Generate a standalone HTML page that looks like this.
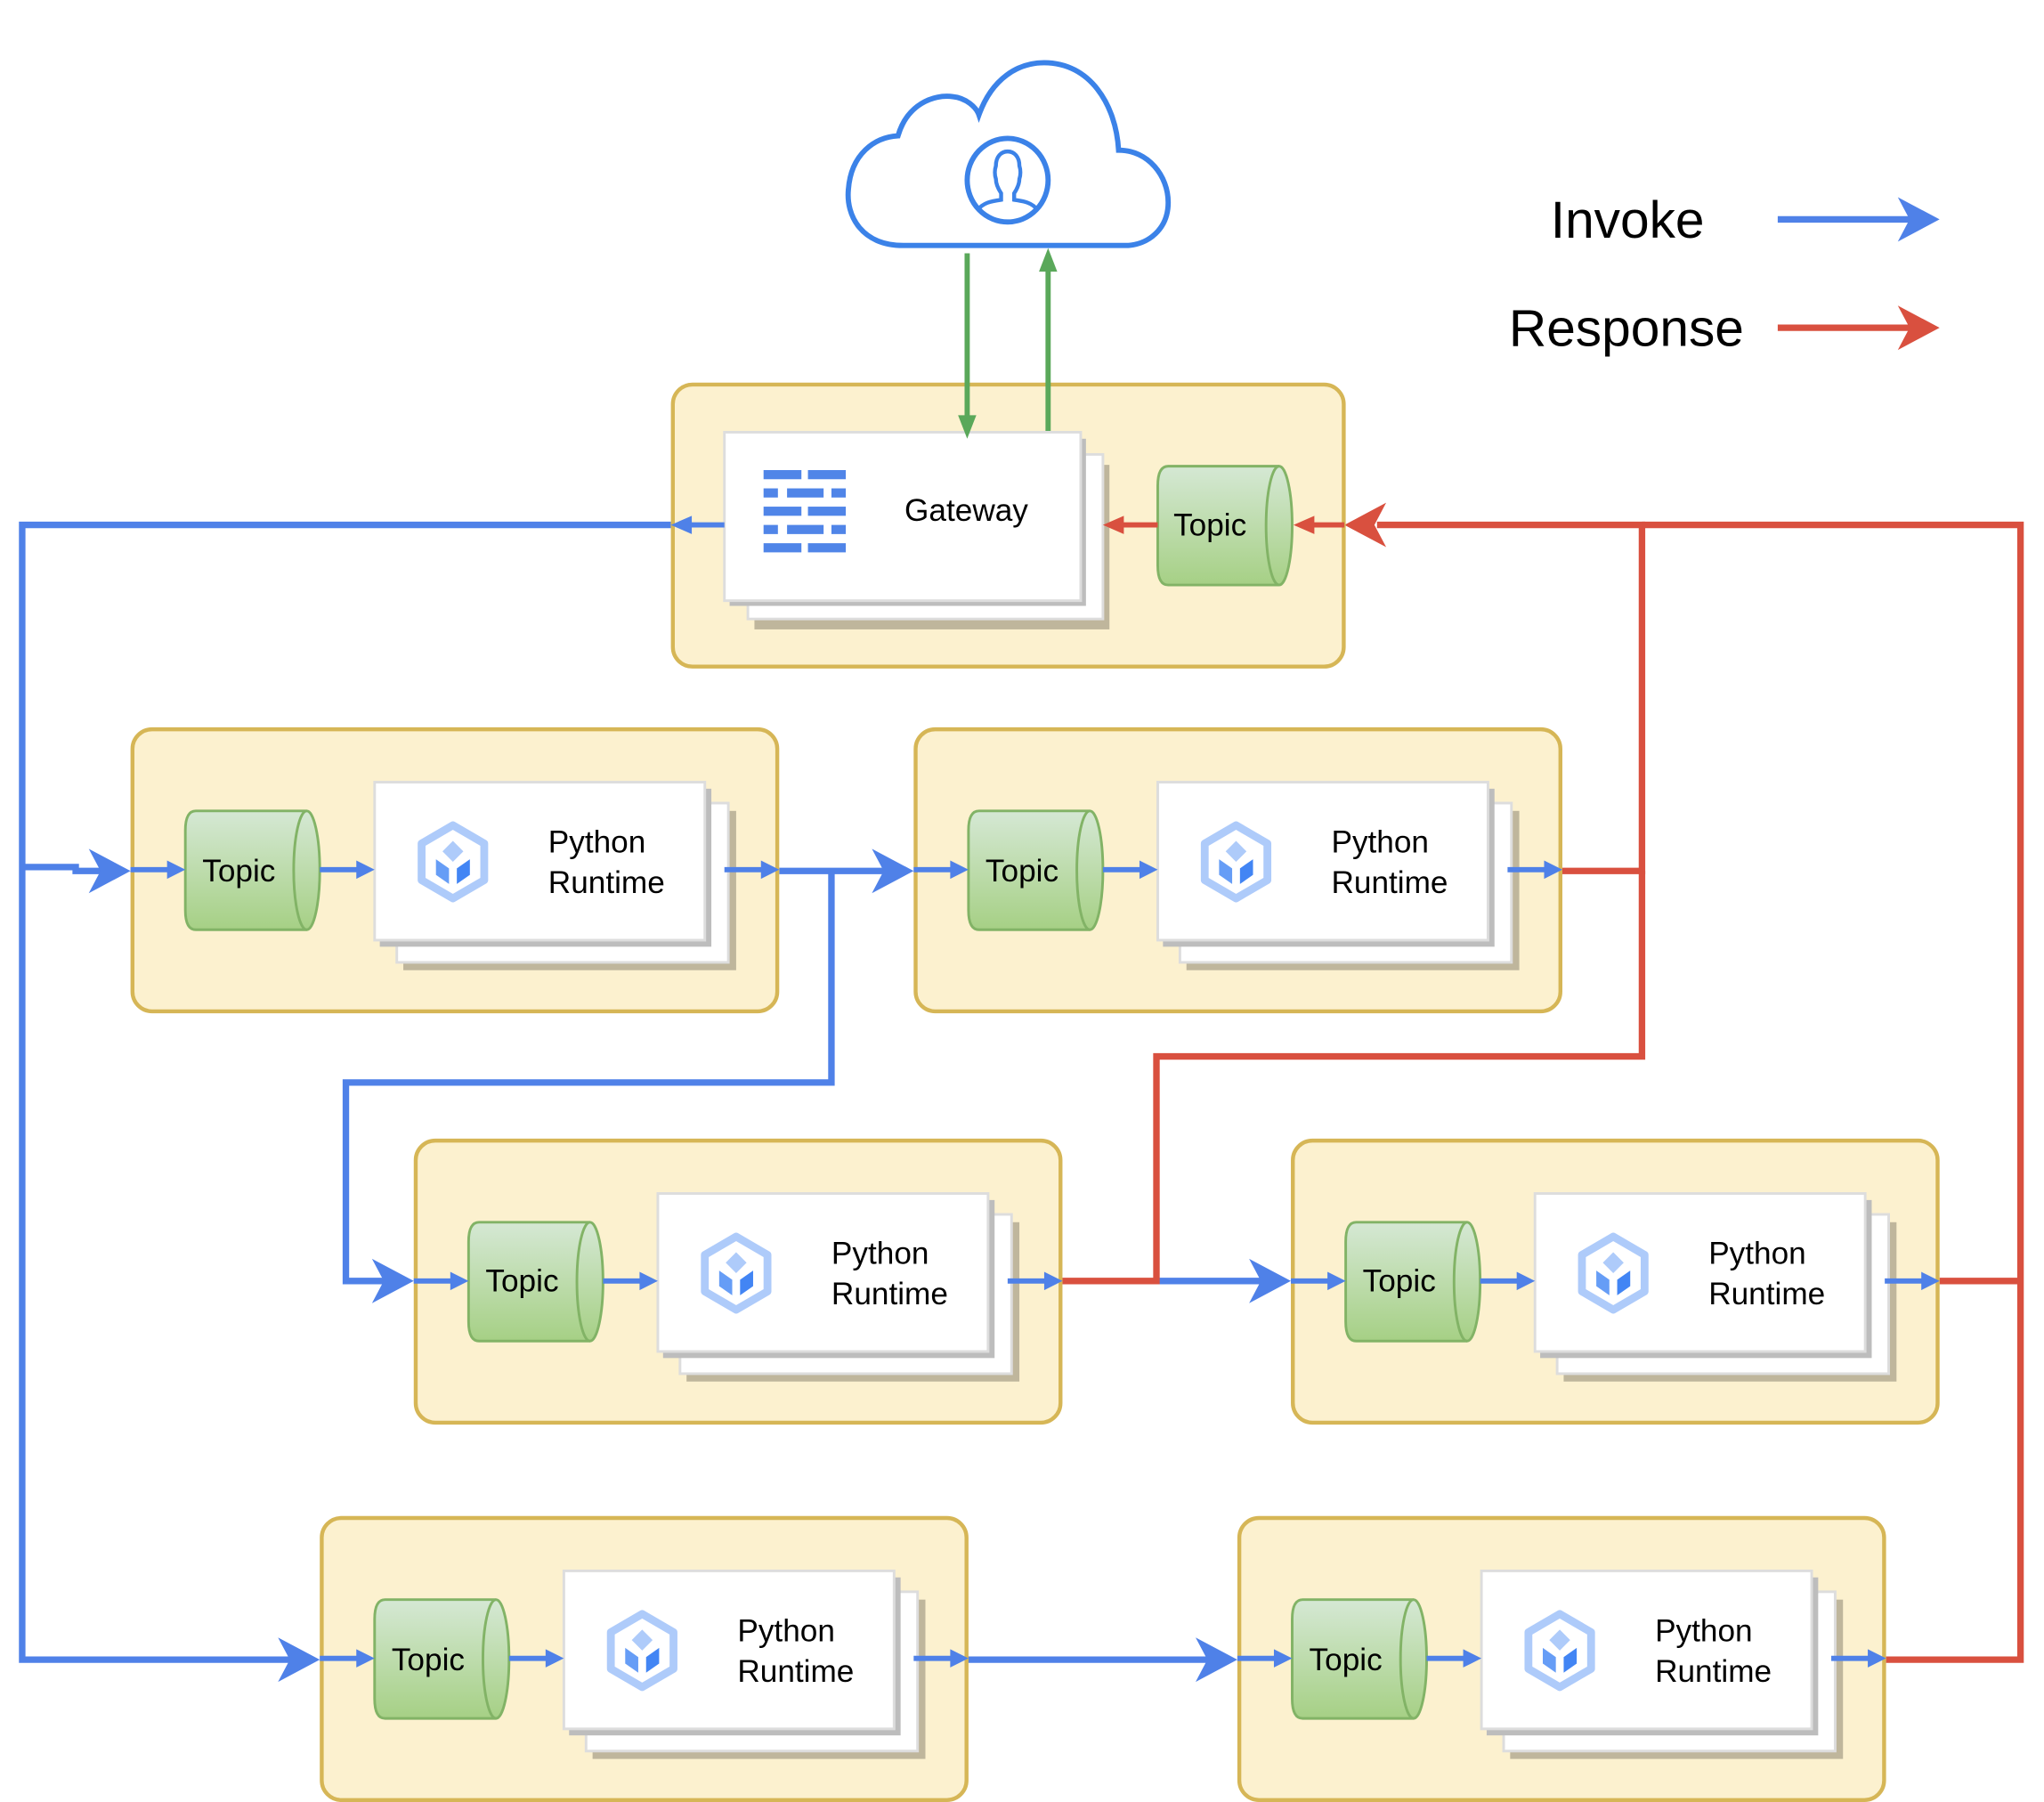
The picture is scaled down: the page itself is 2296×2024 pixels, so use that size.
<!DOCTYPE html>
<html><head><meta charset="utf-8"><style>
html,body{margin:0;padding:0;background:#fff;}
svg{display:block;}
text{font-family:"Liberation Sans",Arial,sans-serif;fill:#000;}
</style></head><body>
<svg width="2296" height="2024" viewBox="0 0 1566 1380" preserveAspectRatio="none" xmlns="http://www.w3.org/2000/svg">
<defs>
<linearGradient id="gr" x1="0" y1="0" x2="0" y2="1"><stop offset="0" stop-color="#d5e8d4"/><stop offset="1" stop-color="#a6d085"/></linearGradient>
<g id="hex">
<polygon points="0,-28 24,-14 24,14 0,28 -24,14 -24,-14" fill="none" stroke="#aecbfa" stroke-width="6" stroke-linejoin="round"/>
<polygon points="0,-16 8,-8 0,0 -8,-8" fill="#aecbfa"/>
<polygon points="-13,-2 -3,5 -3,17 -13,10" fill="#669df6"/>
<polygon points="13,-2 3,5 3,17 13,10" fill="#4285f4"/>
</g>
<g id="cyl">
<path d="M50,64 L135,64 A10,45.5 0 0 1 135,155 L50,155 Q42,155 42,140 L42,79 Q42,64 50,64 Z" fill="url(#gr)" stroke="#82b366" stroke-width="2"/>
<path d="M135,64 A10,45.5 0 0 0 135,155" fill="none" stroke="#82b366" stroke-width="2"/>
</g>
<g id="mod">
<rect x="1.5" y="1.5" width="494" height="216" rx="15" fill="#fcf1cf" stroke="#d6b656" stroke-width="3"/>
<use href="#cyl"/>
<rect x="209" y="64" width="255" height="122" fill="#bfb69c"/>
<rect x="204" y="58" width="254" height="122" fill="#fff" stroke="#ddd" stroke-width="2"/>
<rect x="191" y="47" width="254" height="121" fill="#bdbdbd"/>
<rect x="187" y="42" width="253" height="121" fill="#fff" stroke="#ddd" stroke-width="2"/>
<use href="#hex" x="247" y="103"/>
<g stroke="#4f81e8" stroke-width="4" fill="#4f81e8">
<line x1="0" y1="109" x2="30" y2="109"/><polygon points="42,109 28,102 28,116" stroke="none"/>
<line x1="145" y1="109" x2="175" y2="109"/><polygon points="187,109 173,102 173,116" stroke="none"/>
<line x1="455" y1="109" x2="485" y2="109"/><polygon points="497,109 483,102 483,116" stroke="none"/>
</g>
</g>
</defs>

<g fill="none" stroke-width="5" stroke-linejoin="miter">
<polyline points="514,402 17,402 17,1271 225,1271" stroke="#4f81e8"/>
<polyline points="17,664 58,664 58,667 80,667" stroke="#4f81e8"/>
<polyline points="597,667 680,667" stroke="#4f81e8"/>
<polyline points="637,667 637,829 265,829 265,981 297,981" stroke="#4f81e8"/>
<polyline points="886,981 969,981" stroke="#4f81e8"/>
<polyline points="741,1271 928,1271" stroke="#4f81e8"/>
<polyline points="1197,667 1258,667 1258,402 1055,402" stroke="#d9503f"/>
<polyline points="1258,402 1548,402 1548,1271 1445,1271" stroke="#d9503f"/>
<polyline points="1486,981 1548,981" stroke="#d9503f"/>
<polyline points="1258,667 1258,809 886,809 886,981 814,981" stroke="#d9503f"/>
</g>
<g fill="#4f81e8">
<polygon points="100,667 68,650 77,667 68,684"/>
<polygon points="700,667 668,650 677,667 668,684"/>
<polygon points="317,981 285,964 294,981 285,998"/>
<polygon points="989,981 957,964 966,981 957,998"/>
<polygon points="245,1271 213,1254 222,1271 213,1288"/>
<polygon points="948,1271 916,1254 925,1271 916,1288"/>
</g>
<polygon points="1030,402 1062,385 1053,402 1062,419" fill="#d9503f"/>

<use href="#mod" x="100" y="557"/>
<use href="#mod" x="700" y="557"/>
<use href="#mod" x="317" y="872"/>
<use href="#mod" x="989" y="872"/>
<use href="#mod" x="245" y="1161"/>
<use href="#mod" x="948" y="1161"/>
<g font-size="24">
<text x="155" y="675">Topic</text><text x="420" y="653">Python</text><text x="420" y="684">Runtime</text>
<text x="755" y="675">Topic</text><text x="1020" y="653">Python</text><text x="1020" y="684">Runtime</text>
<text x="372" y="989">Topic</text><text x="637" y="968">Python</text><text x="637" y="999">Runtime</text>
<text x="1044" y="989">Topic</text><text x="1309" y="968">Python</text><text x="1309" y="999">Runtime</text>
<text x="300" y="1279">Topic</text><text x="565" y="1257">Python</text><text x="565" y="1288">Runtime</text>
<text x="1003" y="1279">Topic</text><text x="1268" y="1257">Python</text><text x="1268" y="1288">Runtime</text>
</g>

<rect x="515.5" y="294.5" width="514" height="216" rx="15" fill="#fcf1cf" stroke="#d6b656" stroke-width="3"/>
<rect x="578" y="356" width="272" height="126" fill="#bfb69c"/>
<rect x="573" y="348" width="272" height="126" fill="#fff" stroke="#ddd" stroke-width="2"/>
<rect x="559" y="336" width="273" height="128" fill="#bdbdbd"/>
<rect x="555" y="331" width="273" height="129" fill="#fff" stroke="#ddd" stroke-width="2"/>
<g fill="#5085e8">
<rect x="585" y="360" width="29" height="7"/><rect x="619" y="360" width="29" height="7"/>
<rect x="585" y="374" width="11" height="7"/><rect x="603" y="374" width="28" height="7"/><rect x="637" y="374" width="11" height="7"/>
<rect x="585" y="388" width="29" height="7"/><rect x="619" y="388" width="29" height="7"/>
<rect x="585" y="402" width="11" height="7"/><rect x="603" y="402" width="28" height="7"/><rect x="637" y="402" width="11" height="7"/>
<rect x="585" y="416" width="29" height="7"/><rect x="619" y="416" width="29" height="7"/>
</g>
<text x="693" y="399" font-size="24">Gateway</text>
<g transform="translate(845,293)"><use href="#cyl"/></g>
<text x="899" y="410" font-size="24">Topic</text>
<g stroke-width="4">
<line x1="555" y1="402" x2="528" y2="402" stroke="#4f81e8"/><polygon points="514,402 530,395 530,409" fill="#4f81e8"/>
<line x1="1030" y1="402" x2="1005" y2="402" stroke="#d9503f"/><polygon points="991,402 1007,395 1007,409" fill="#d9503f"/>
<line x1="887" y1="402" x2="860" y2="402" stroke="#d9503f"/><polygon points="845,402 861,395 861,409" fill="#d9503f"/>
<line x1="741" y1="194" x2="741" y2="320" stroke="#5aa85a"/><polygon points="741,336 734,318 748,318" fill="#5aa85a"/>
<line x1="803" y1="330" x2="803" y2="205" stroke="#5aa85a"/><polygon points="803,190 796,208 810,208" fill="#5aa85a"/>
</g>

<path d="M692,188 C660,188 648,165 650,145 C652,118 670,105 688,104 C695,80 715,72 730,74 C740,75 748,82 750,88 C760,60 780,48 800,48 C835,48 855,80 857,115 C880,115 895,135 895,155 C895,175 880,188 862,188 Z" fill="#fff" stroke="#3b82e8" stroke-width="4"/>
<ellipse cx="772" cy="138" rx="31" ry="32" fill="#fff" stroke="#3b82e8" stroke-width="4"/>
<path d="M749,161 C753,155 760,154 767,153 L767,148 C765,145 763,141 763,137 C762,134 762,130 763,127 C763,120 767,116 772,116 C777,116 781,120 781,127 C782,130 782,134 781,137 C781,141 779,145 777,148 L777,153 C784,154 791,155 795,161" fill="none" stroke="#3b82e8" stroke-width="3"/>

<text x="1188" y="182" font-size="40">Invoke</text>
<text x="1156" y="265" font-size="40">Response</text>
<line x1="1362" y1="168" x2="1465" y2="168" stroke="#4f81e8" stroke-width="5"/>
<polygon points="1486,168 1454,151 1463,168 1454,185" fill="#4f81e8"/>
<line x1="1362" y1="251" x2="1465" y2="251" stroke="#d9503f" stroke-width="5"/>
<polygon points="1486,251 1454,234 1463,251 1454,268" fill="#d9503f"/>
</svg>
</body></html>
